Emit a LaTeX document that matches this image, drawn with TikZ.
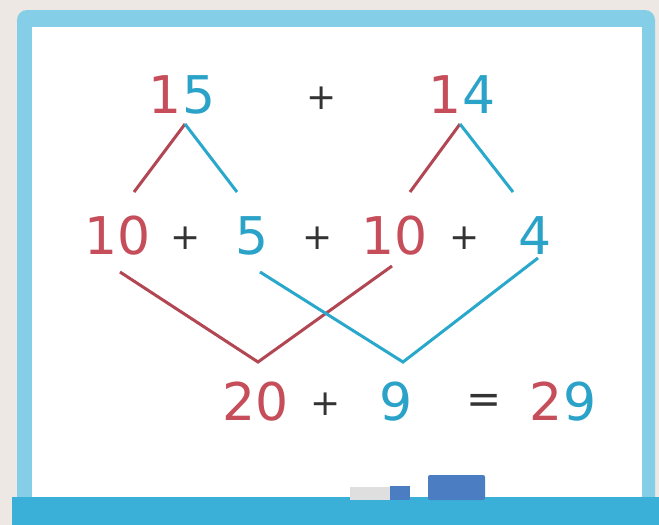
\documentclass[tikz,border=0pt]{standalone}
\usepackage{fontspec}
\setmainfont{DejaVu Sans}
\usetikzlibrary{positioning}
\definecolor{numred}{HTML}{C64E5A}
\definecolor{numblue}{HTML}{2BA2C8}
\definecolor{linered}{HTML}{B24652}
\definecolor{lineblue}{HTML}{2AA8CC}
\definecolor{wall}{HTML}{EEE8E5}
\definecolor{frameblue}{HTML}{84CEE8}
\definecolor{trayblue}{HTML}{3AB0D9}
\definecolor{rubber}{HTML}{4A7DC2}

\begin{document}
\begin{tikzpicture}[
  x=0.5pt, y=-0.5pt,
  num/.style={font=\fontsize{26}{26}\selectfont, inner sep=0pt, anchor=base},
  op/.style={font=\fontsize{18}{18}\selectfont, inner sep=0pt, anchor=center, text=black!80},
  rednum/.style={num, text=numred},
  bluenum/.style={num, text=numblue},
  redline/.style={draw=linered, line width=1.5pt},
  blueline/.style={draw=lineblue, line width=1.5pt},
]
  \useasboundingbox (0,0) rectangle (659,525);
  % board
  \fill[wall] (0,0) rectangle (659,525);
  \fill[frameblue, rounded corners=5pt] (17,10) rectangle (655,512);
  \fill[white] (32,27) rectangle (642,500);
  \fill[trayblue] (12,497) rectangle (659,525);
  \fill[gray!25] (350,487) rectangle (390,500);
  \fill[rubber] (390,486) rectangle (410,500);
  \fill[rubber, rounded corners=1pt] (428,475) rectangle (485,500);

  % top row
  \node[num] (a) at (182,113) {\color{numred}1\color{numblue}5};
  \node[op] (p1) at (322,98) {+};
  \node[num] (b) at (462,113) {\color{numred}1\color{numblue}4};

  % split row
  \node[rednum] (a1) at (118,254) {10};
  \node[op] (p2) at (186,238) {+};
  \node[bluenum] (a2) at (252,254) {5};
  \node[op] (p3) at (318,238) {+};
  \node[rednum] (b1) at (395,254) {10};
  \node[op] (p4) at (465,238) {+};
  \node[bluenum] (b2) at (535,254) {4};

  % result row
  \node[rednum] (tens) at (256,420) {20};
  \node[op] (p5) at (326,404) {+};
  \node[bluenum] (ones) at (396,420) {9};
  \node[op, font=\fontsize{21}{21}\selectfont] (eq) at (484,404) {=};
  \node[num] (sum) at (563,420) {\color{numred}2\color{numblue}9};

  % line ends
  \coordinate (atop) at (185,124);
  \coordinate (btop) at (460,124);
  \coordinate (aleft) at (134,192);
  \coordinate (aright) at (237,192);
  \coordinate (bleft) at (410,192);
  \coordinate (bright) at (513,192);
  \coordinate (tensbot) at (258,362);
  \coordinate (onesbot) at (403,362);
  \coordinate (a1end) at (120,272);
  \coordinate (b1end) at (392,266);
  \coordinate (a2end) at (260,272);
  \coordinate (b2end) at (538,258);

  \draw[redline] (aleft) -- (atop);
  \draw[blueline] (atop) -- (aright);
  \draw[redline] (bleft) -- (btop);
  \draw[blueline] (btop) -- (bright);

  \draw[redline] (a1end) -- (tensbot) -- (b1end);
  \draw[blueline] (a2end) -- (onesbot) -- (b2end);
\end{tikzpicture}
\end{document}
